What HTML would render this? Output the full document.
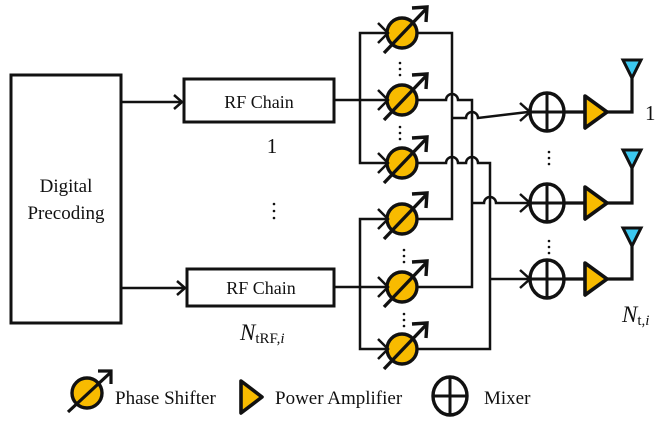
<!DOCTYPE html>
<html><head><meta charset="utf-8"><style>html,body{margin:0;padding:0;background:#fff}svg{display:block}text{font-family:"Liberation Serif",serif;fill:#111}</style></head><body>
<svg width="666" height="424" viewBox="0 0 666 424" xmlns="http://www.w3.org/2000/svg">
<defs>
<g id="ps">
<ellipse cx="0" cy="0" rx="15" ry="15" fill="#f8bb00" stroke="#111" stroke-width="3.4"/>
<line x1="-18" y1="20" x2="24" y2="-24" stroke="#111" stroke-width="3.4"/>
<polyline points="10,-25 25,-26 24,-11" fill="none" stroke="#111" stroke-width="3.4"/>
<polyline points="-24,-10 -14,0 -24,10" fill="none" stroke="#111" stroke-width="2.5"/>
</g>
<g id="mx">
<ellipse cx="0" cy="0" rx="17" ry="19" fill="#fff" stroke="#111" stroke-width="3.4"/>
<line x1="-17" y1="0" x2="17" y2="0" stroke="#111" stroke-width="3"/>
<line x1="0" y1="-19" x2="0" y2="19" stroke="#111" stroke-width="3"/>
<polyline points="-27,-9 -17,0 -27,9" fill="none" stroke="#111" stroke-width="2.5"/>
</g>
<g id="amp"><polygon points="0,-16 22,0 0,16" fill="#f8bb00" stroke="#111" stroke-width="3.6" stroke-linejoin="round"/></g>
<g id="ant"><polygon points="-9,-18 9,-18 0,0" fill="#3cc8f0" stroke="#111" stroke-width="3"/></g>
</defs>
<g stroke="#111" stroke-width="3" fill="none">
<rect x="11" y="75" width="110" height="248"/>
<rect x="184" y="79" width="150" height="43"/>
<rect x="187" y="269" width="147" height="37"/>
</g>
<g stroke="#111" stroke-width="2.5" fill="none">
<line x1="121" y1="102" x2="182" y2="102"/><polyline points="174,95 182,102 174,109"/>
<line x1="121" y1="288" x2="185" y2="288"/><polyline points="177,281 185,288 177,295"/>
<line x1="334" y1="100" x2="386" y2="100"/>
<polyline points="386,33 360,33 360,163 386,163"/>
<line x1="334" y1="287" x2="386" y2="287"/>
<polyline points="386,219 360,219 360,349 386,349"/>
<polyline points="416,33 452,33 452,219 416,219"/>
<path d="M416,100 H446 a6,6 0 0 1 12,0 H472 V287 H416"/>
<path d="M416,163 H446 a6,6 0 0 1 12,0 H466 a6,6 0 0 1 12,0 H490 V349 H416"/>
<path d="M452,118 H466 a6,6 0 0 1 12,0 L528,112"/>
<path d="M472,203 H484 a6,6 0 0 1 12,0 H528"/>
<line x1="490" y1="279" x2="528" y2="279"/>
</g>
<g stroke="#111" stroke-width="3.2" fill="none">
<line x1="564" y1="112" x2="585" y2="112"/><polyline points="607,112 632,112 632,78"/>
<line x1="564" y1="203" x2="585" y2="203"/><polyline points="607,203 632,203 632,168"/>
<line x1="564" y1="279" x2="585" y2="279"/><polyline points="607,279 632,279 632,246"/>
</g>
<use href="#ps" x="402" y="33"/><use href="#ps" x="402" y="100"/><use href="#ps" x="402" y="163"/>
<use href="#ps" x="402" y="219"/><use href="#ps" x="402" y="287"/><use href="#ps" x="402" y="349"/>
<use href="#mx" x="547" y="112"/><use href="#mx" x="547" y="203"/><use href="#mx" x="547" y="279"/>
<use href="#amp" x="585" y="112"/><use href="#amp" x="585" y="203"/><use href="#amp" x="585" y="279"/>
<use href="#ant" x="632" y="78"/><use href="#ant" x="632" y="168"/><use href="#ant" x="632" y="246"/>
<g fill="#111">
<circle cx="400" cy="63" r="1.3"/><circle cx="400" cy="69" r="1.3"/><circle cx="400" cy="75" r="1.3"/>
<circle cx="400" cy="127" r="1.3"/><circle cx="400" cy="133" r="1.3"/><circle cx="400" cy="139" r="1.3"/>
<circle cx="404" cy="250" r="1.3"/><circle cx="404" cy="256" r="1.3"/><circle cx="404" cy="262" r="1.3"/>
<circle cx="404" cy="314" r="1.3"/><circle cx="404" cy="320" r="1.3"/><circle cx="404" cy="326" r="1.3"/>
<circle cx="549" cy="152" r="1.3"/><circle cx="549" cy="158" r="1.3"/><circle cx="549" cy="164" r="1.3"/>
<circle cx="549" cy="241" r="1.3"/><circle cx="549" cy="247" r="1.3"/><circle cx="549" cy="253" r="1.3"/>
<circle cx="274" cy="204" r="1.3"/><circle cx="274" cy="211" r="1.3"/><circle cx="274" cy="218" r="1.3"/>
</g>
<g font-size="18">
<text x="259" y="108" text-anchor="middle">RF Chain</text>
<text x="261" y="294" text-anchor="middle">RF Chain</text>
<text x="66" y="192" text-anchor="middle" font-size="19">Digital</text>
<text x="66" y="219" text-anchor="middle" font-size="19">Precoding</text>
<text x="272" y="153" text-anchor="middle" font-size="21">1</text>
<text x="645" y="120" font-size="21">1</text>
<text x="240" y="340" font-size="23" font-style="italic">N<tspan font-size="15" font-style="normal" dy="3">tRF,</tspan><tspan font-size="15">i</tspan></text>
<text x="622" y="322" font-size="23" font-style="italic">N<tspan font-size="15" font-style="normal" dy="3">t,</tspan><tspan font-size="15">i</tspan></text>
</g>
<g>
<ellipse cx="87" cy="393" rx="15" ry="15" fill="#f8bb00" stroke="#111" stroke-width="3.4"/>
<line x1="68" y1="412" x2="110" y2="373" stroke="#111" stroke-width="3.2"/>
<polyline points="98,371 111,371 111,384" fill="none" stroke="#111" stroke-width="3.2"/>
<polygon points="241,381 262,397 241,413" fill="#f8bb00" stroke="#111" stroke-width="3.6" stroke-linejoin="round"/>
<ellipse cx="450" cy="396" rx="17" ry="19" fill="#fff" stroke="#111" stroke-width="3.4"/>
<line x1="433" y1="396" x2="467" y2="396" stroke="#111" stroke-width="3"/>
<line x1="450" y1="377" x2="450" y2="415" stroke="#111" stroke-width="3"/>
</g>
<g font-size="19">
<text x="115" y="404">Phase Shifter</text>
<text x="275" y="404">Power Amplifier</text>
<text x="484" y="404">Mixer</text>
</g>
</svg>
</body></html>
